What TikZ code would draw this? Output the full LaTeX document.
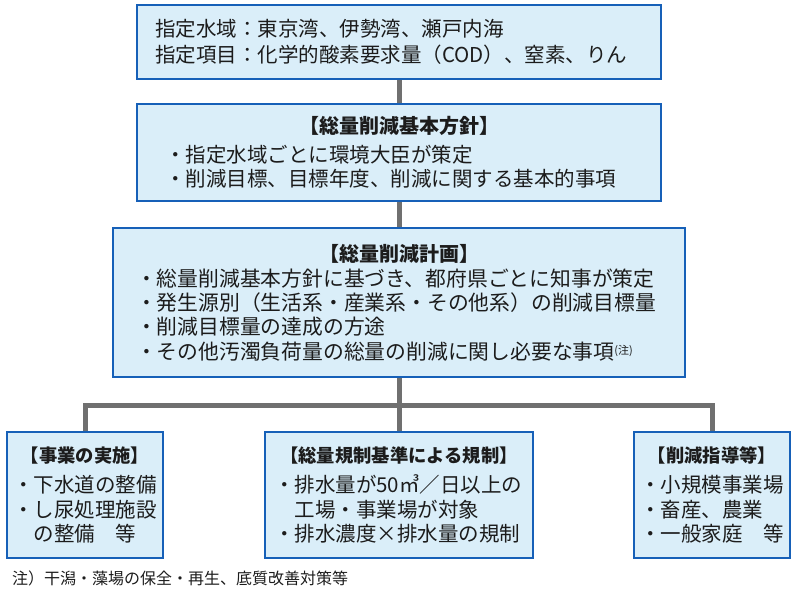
\documentclass[tikz,border=0pt]{standalone}
\usepackage{fontspec}
\setmainfont{Noto Sans CJK JP}
\definecolor{boxfill}{RGB}{218,238,249}
\definecolor{boxblue}{RGB}{22,96,184}
\definecolor{conngray}{RGB}{112,112,112}
\definecolor{txt}{RGB}{28,28,28}
\tikzset{
  box/.style={draw=boxblue, fill=boxfill, line width=1.4pt, inner sep=0pt,
    align=left, text=txt, font=\fontsize{20.5}{24}\selectfont},
  conn/.style={draw=conngray, line width=5pt, line join=miter},
}
\newcommand{\hd}[2]{\hspace*{\fill}{\bfseries\fontsize{#1}{24}\selectfont #2}\hspace*{\fill}\mbox{}}
\begin{document}
\begin{tikzpicture}[x=1pt,y=-1pt]
\useasboundingbox (0,0) rectangle (798,590);
\node[box, minimum width=524pt, minimum height=74pt, text width=488pt,
  font=\fontsize{20.5}{26}\selectfont] (b1) at (399,42)
  {指定水域：東京湾、伊勢湾、瀬戸内海\\指定項目：化学的酸素要求量（COD）、窒素、りん};
\node[box, minimum width=524pt, minimum height=97pt, text width=468pt] (b2) at (399,152.5)
  {\hd{20}{【総量削減基本方針】}\\[5pt]
   ・指定水域ごとに環境大臣が策定\\
   ・削減目標、目標年度、削減に関する基本的事項};
\node[box, minimum width=572pt, minimum height=149pt, text width=526pt,
  font=\fontsize{20.8}{24.2}\selectfont] (b3) at (399,302.5)
  {\hd{20}{【総量削減計画】}\\[1pt]
   ・総量削減基本方針に基づき、都府県ごとに知事が策定\\
   ・発生源別（生活系・産業系・その他系）の削減目標量\\
   ・削減目標量の達成の方途\\
   ・その他汚濁負荷量の総量の削減に関し必要な事項\raisebox{5pt}{\fontsize{11}{11}\selectfont (注)}};
\node[box, minimum width=156pt, minimum height=126pt, text width=144pt,
  font=\fontsize{20.5}{24.5}\selectfont] (b4) at (85,495)
  {\hd{18.3}{【事業の実施】}\\[6pt]
   ・下水道の整備\\
   ・し尿処理施設\\
   　の整備　等};
\node[box, minimum width=268pt, minimum height=126pt, text width=250pt,
  font=\fontsize{20.5}{24.5}\selectfont] (b5) at (399,495)
  {\hd{18.3}{【総量規制基準による規制】}\\[6pt]
   ・排水量が50㎥／日以上の\\
   　工場・事業場が対象\\
   ・排水濃度×排水量の規制};
\node[box, minimum width=156pt, minimum height=126pt, text width=144pt,
  font=\fontsize{20.5}{24.5}\selectfont] (b6) at (712,495)
  {\hd{18.3}{【削減指導等】}\\[6pt]
   ・小規模事業場\\
   ・畜産、農業\\
   ・一般家庭　等};
\node[anchor=west, inner sep=0pt, text=txt, font=\fontsize{16}{16}\selectfont] (fn) at (12,578)
  {注）干潟・藻場の保全・再生、底質改善対策等};
\coordinate (j) at (399,405.5);
\draw[conn] (b1.south) -- (b2.north);
\draw[conn] (b2.south) -- (b3.north);
\draw[conn] (b3.south) -- (b5.north);
\draw[conn] (b4.north) |- (j) -| (b6.north);
\end{tikzpicture}
\end{document}
